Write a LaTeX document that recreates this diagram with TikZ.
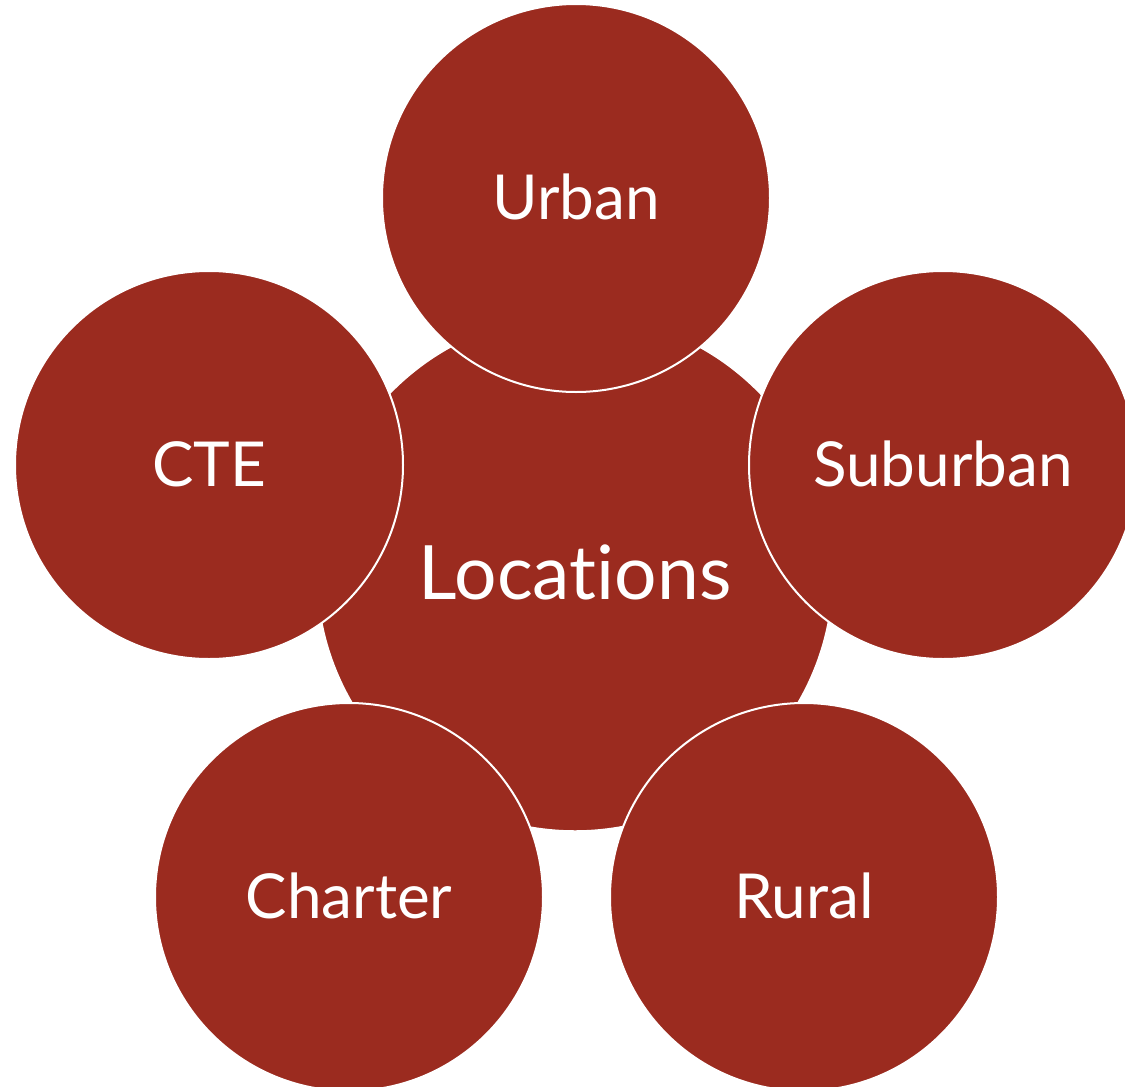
\documentclass[tikz,border=0pt]{standalone}
\usepackage{fontspec}
\setmainfont{Lato}[Ligatures={NoCommon}]
\definecolor{brick}{HTML}{9B2B1F}
\begin{document}
\begin{tikzpicture}[x=1pt,y=-1pt,
  hub/.style={circle,fill=brick,draw=white,line width=1.5pt,minimum size=516pt,inner sep=0pt,text=white,font=\fontsize{75}{80}\selectfont},
  spoke/.style={circle,fill=brick,draw=white,line width=2pt,minimum size=388pt,inner sep=0pt,text=white,font=\fontsize{62}{66}\selectfont}]
\useasboundingbox (0,0) rectangle (1125,1087);
\clip (0,0) rectangle (1125,1087);
\node[hub] (loc) at (575,573) {\raisebox{2pt}{Locations}};
\node[spoke] (urban) at (576,198) {\raisebox{2pt}{Urban}};
\node[spoke] (sub) at (943,465) {\raisebox{2pt}{Suburban}};
\node[spoke] (rural) at (804,897) {\raisebox{2pt}{Rural}};
\node[spoke] (charter) at (349,897) {\raisebox{2pt}{Charter}};
\node[spoke] (cte) at (209,465) {\raisebox{2pt}{CTE}};
\end{tikzpicture}
\end{document}
